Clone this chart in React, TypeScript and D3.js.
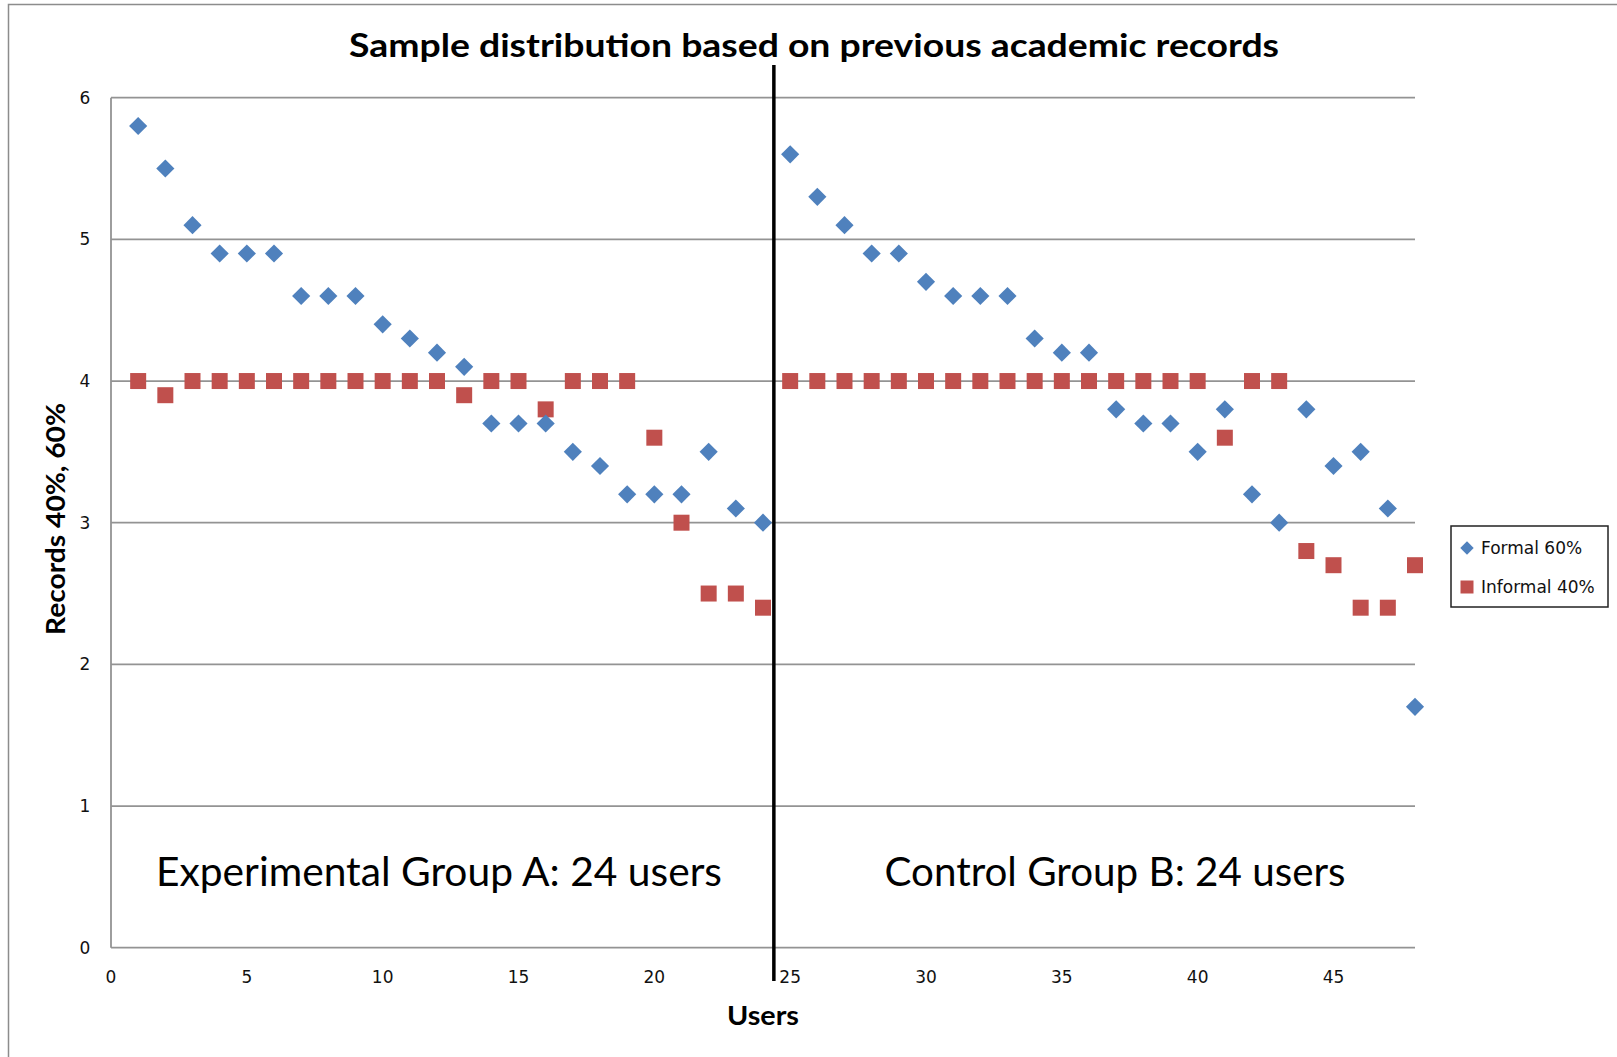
import * as d3 from "d3";
import { useEffect, useRef } from "react";

const users = [
  1, 2, 3, 4, 5, 6, 7, 8, 9, 10, 11, 12, 13, 14, 15, 16, 17, 18, 19, 20, 21, 22, 23, 24,
  25, 26, 27, 28, 29, 30, 31, 32, 33, 34, 35, 36, 37, 38, 39, 40, 41, 42, 43, 44, 45, 46, 47, 48,
];

const formal = [
  5.8, 5.5, 5.1, 4.9, 4.9, 4.9, 4.6, 4.6, 4.6, 4.4, 4.3, 4.2, 4.1, 3.7, 3.7, 3.7, 3.5, 3.4, 3.2, 3.2, 3.2, 3.5, 3.1, 3.0,
  5.6, 5.3, 5.1, 4.9, 4.9, 4.7, 4.6, 4.6, 4.6, 4.3, 4.2, 4.2, 3.8, 3.7, 3.7, 3.5, 3.8, 3.2, 3.0, 3.8, 3.4, 3.5, 3.1, 1.7,
];

const informal = [
  4.0, 3.9, 4.0, 4.0, 4.0, 4.0, 4.0, 4.0, 4.0, 4.0, 4.0, 4.0, 3.9, 4.0, 4.0, 3.8, 4.0, 4.0, 4.0, 3.6, 3.0, 2.5, 2.5, 2.4,
  4.0, 4.0, 4.0, 4.0, 4.0, 4.0, 4.0, 4.0, 4.0, 4.0, 4.0, 4.0, 4.0, 4.0, 4.0, 4.0, 3.6, 4.0, 4.0, 2.8, 2.7, 2.4, 2.4, 2.7,
];

const xTicks = [0, 5, 10, 15, 20, 25, 30, 35, 40, 45];
const yTicks = [0, 1, 2, 3, 4, 5, 6];
const seriesNames = ["Formal 60%", "Informal 40%"];
const groupLabels = ["Experimental Group A: 24 users", "Control Group B: 24 users"];
const dividerAt = 24.4;

const BLUE = "#4f81bd";
const RED = "#c0504d";

const App = () => {
  const ref = useRef<SVGSVGElement>(null);

  useEffect(() => {
    const width = 1617;
    const height = 1057;
    const m = { left: 111, right: 202, top: 97.7, bottom: 109.3 };

    const svg = d3
      .select(ref.current)
      .attr("width", width)
      .attr("height", height)
      .html("");

    const x = d3.scaleLinear().domain([0, 48]).range([m.left, width - m.right]);
    const y = d3.scaleLinear().domain([0, 6]).range([height - m.bottom, m.top]);

    // outer frame (cropped screenshot: only top and left visible)
    svg
      .append("path")
      .attr("d", `M8.5,${height + 5} V4.5 H${width + 5}`)
      .attr("fill", "none")
      .attr("stroke", "#8c8c8c")
      .attr("stroke-width", 1.5);

    // gridlines
    svg
      .append("g")
      .selectAll("line")
      .data(yTicks)
      .enter()
      .append("line")
      .attr("x1", x(0))
      .attr("x2", x(48))
      .attr("y1", (d) => y(d))
      .attr("y2", (d) => y(d))
      .attr("stroke", "#939393")
      .attr("stroke-width", 1.8);

    // y axis line
    svg
      .append("line")
      .attr("x1", x(0))
      .attr("x2", x(0))
      .attr("y1", y(0))
      .attr("y2", y(6))
      .attr("stroke", "#939393")
      .attr("stroke-width", 1.8);

    const tickFont = "'DejaVu Sans', Verdana, sans-serif";

    svg
      .append("g")
      .selectAll("text")
      .data(yTicks)
      .enter()
      .append("text")
      .attr("x", 85)
      .attr("y", (d) => y(d))
      .attr("dy", "0.36em")
      .attr("text-anchor", "middle")
      .style("font-family", tickFont)
      .style("font-size", "17px")
      .style("fill", "#111")
      .text((d) => d);

    svg
      .append("g")
      .selectAll("text")
      .data(xTicks)
      .enter()
      .append("text")
      .attr("x", (d) => x(d))
      .attr("y", 977)
      .attr("dy", "0.36em")
      .attr("text-anchor", "middle")
      .style("font-family", tickFont)
      .style("font-size", "17px")
      .style("fill", "#111")
      .text((d) => d);

    // divider line between groups
    svg
      .append("line")
      .attr("x1", x(dividerAt))
      .attr("x2", x(dividerAt))
      .attr("y1", 65)
      .attr("y2", 981)
      .attr("stroke", "#000")
      .attr("stroke-width", 3.5);

    const square = d3.symbol(d3.symbolSquare, 256);
    const diamond = d3.symbol(d3.symbolSquare, 165);

    // informal series (squares)
    svg
      .append("g")
      .selectAll("path")
      .data(users)
      .enter()
      .append("path")
      .attr("d", square)
      .attr("transform", (d, i) => `translate(${x(d)},${y(informal[i])})`)
      .attr("fill", RED);

    // formal series (diamonds)
    svg
      .append("g")
      .selectAll("path")
      .data(users)
      .enter()
      .append("path")
      .attr("d", diamond)
      .attr("transform", (d, i) => `translate(${x(d)},${y(formal[i])}) rotate(45)`)
      .attr("fill", BLUE);

    const textFont = "Lato, 'Open Sans', sans-serif";

    // title
    svg
      .append("text")
      .attr("x", 814)
      .attr("y", 57)
      .attr("text-anchor", "middle")
      .attr("textLength", 930)
      .attr("lengthAdjust", "spacingAndGlyphs")
      .style("font-family", textFont)
      .style("font-size", "33px")
      .style("font-weight", "700")
      .style("fill", "#000")
      .text("Sample distribution based on previous academic records");

    // axis titles
    svg
      .append("text")
      .attr("x", 763)
      .attr("y", 1025)
      .attr("text-anchor", "middle")
      .attr("textLength", 72)
      .attr("lengthAdjust", "spacingAndGlyphs")
      .style("font-family", textFont)
      .style("font-size", "26px")
      .style("font-weight", "700")
      .text("Users");

    svg
      .append("text")
      .attr("transform", "translate(65,519) rotate(-90)")
      .attr("text-anchor", "middle")
      .attr("textLength", 232)
      .attr("lengthAdjust", "spacingAndGlyphs")
      .style("font-family", textFont)
      .style("font-size", "26px")
      .style("font-weight", "700")
      .text("Records 40%, 60%");

    // group annotations
    const groupPos = [
      { cx: 439, len: 566 },
      { cx: 1115, len: 461 },
    ];
    svg
      .append("g")
      .selectAll("text")
      .data(groupLabels)
      .enter()
      .append("text")
      .attr("x", (d, i) => groupPos[i].cx)
      .attr("y", 886)
      .attr("text-anchor", "middle")
      .attr("textLength", (d, i) => groupPos[i].len)
      .attr("lengthAdjust", "spacingAndGlyphs")
      .style("font-family", textFont)
      .style("font-size", "40px")
      .style("fill", "#000")
      .text((d) => d);

    // legend
    const lg = svg.append("g").attr("transform", "translate(1451,526)");
    lg.append("rect")
      .attr("width", 157)
      .attr("height", 81)
      .attr("fill", "#fff")
      .attr("stroke", "#222")
      .attr("stroke-width", 1.5);

    const items = lg
      .selectAll("g.item")
      .data(seriesNames)
      .enter()
      .append("g")
      .attr("class", "item")
      .attr("transform", (d, i) => `translate(16,${22 + i * 39})`);

    items
      .append("path")
      .attr("d", (d, i) => (i === 0 ? d3.symbol(d3.symbolSquare, 90)() : d3.symbol(d3.symbolSquare, 169)()))
      .attr("transform", (d, i) => (i === 0 ? "rotate(45)" : ""))
      .attr("fill", (d, i) => (i === 0 ? BLUE : RED));

    items
      .append("text")
      .attr("x", 14)
      .attr("dy", "0.36em")
      .style("font-family", tickFont)
      .style("font-size", "17px")
      .style("fill", "#111")
      .text((d) => d);
  }, []);

  return (
    <div style={{ position: "absolute", left: 0, top: 0, background: "#fff" }}>
      <svg ref={ref}></svg>
    </div>
  );
};

export default App;
